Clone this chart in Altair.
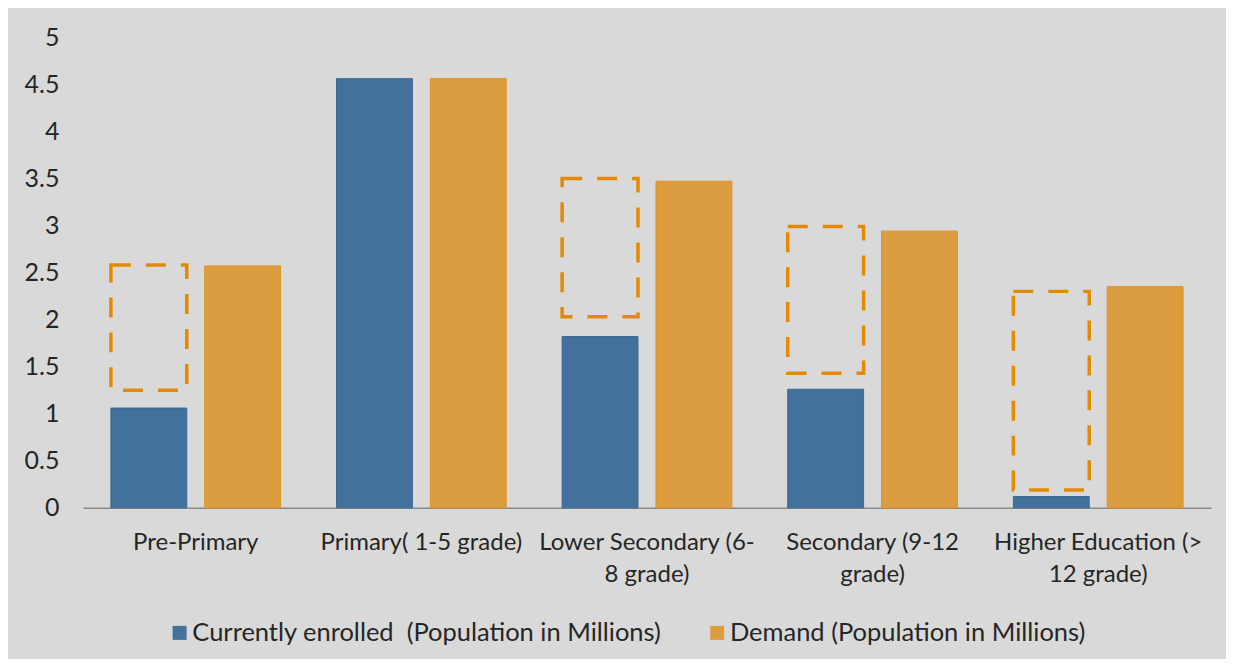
import altair as alt
import pandas as pd

categories = ["Pre-Primary", "Primary( 1-5 grade)", "Lower Secondary (6-|8 grade)",
              "Secondary (9-12|grade)", "Higher Education (>|12 grade)"]
series = ["Currently enrolled \u00a0(Population in Millions)", "Demand (Population in Millions)"]
enrolled = [1.06, 4.56, 1.82, 1.26, 0.12]
demand = [2.57, 4.56, 3.47, 2.94, 2.35]

gap_cats = ["Pre-Primary", "Lower Secondary (6-|8 grade)", "Secondary (9-12|grade)",
            "Higher Education (>|12 grade)"]
gap_low = [1.25, 2.03, 1.43, 0.19]
gap_high = [2.58, 3.50, 2.99, 2.30]

y_ticks = [0, 0.5, 1, 1.5, 2, 2.5, 3, 3.5, 4, 4.5, 5]

rows = []
for c, e, d in zip(categories, enrolled, demand):
    rows.append({"cat": c, "series": series[0], "value": e})
    rows.append({"cat": c, "series": series[1], "value": d})
bars_df = pd.DataFrame(rows)
gaps_df = pd.DataFrame({"cat": gap_cats, "series": [series[0]] * len(gap_cats),
                        "low": gap_low, "high": gap_high})

FONT = "Lato"
TXT = "#262626"

x = alt.X("cat:N", sort=categories, title=None,
          scale=alt.Scale(paddingInner=0, paddingOuter=0),
          axis=alt.Axis(title=None, labelExpr="split(datum.label, '|')", labelAngle=0,
                        ticks=False, domainColor="#898989", domainWidth=1.5,
                        labelFont=FONT, labelFontSize=24, labelColor=TXT,
                        labelPadding=23, labelLineHeight=32, labelLimit=400))
xoff = alt.XOffset("series:N", sort=series,
                   scale=alt.Scale(domain=series, paddingInner=0.1915, paddingOuter=0.298))
y = alt.Y("value:Q", title=None, scale=alt.Scale(domain=[0, 5]),
          axis=alt.Axis(title=None, values=y_ticks, grid=False, domain=False, ticks=False,
                        format="~g",
                        labelFont=FONT, labelFontSize=25, labelColor=TXT, labelPadding=24))

bars = alt.Chart(bars_df).mark_bar(strokeWidth=1).encode(
    x=x, xOffset=xoff, y=y,
    color=alt.Color("series:N", sort=series,
                    scale=alt.Scale(domain=series, range=["#41719c", "#dc9d40"]),
                    legend=alt.Legend(title=None, orient="none", legendX=84, legendY=583,
                                      direction="horizontal", symbolType="square",
                                      symbolSize=196, labelFont=FONT, labelFontSize=25.5,
                                      labelColor=TXT, columnPadding=42, labelOffset=0,
                                      symbolStrokeWidth=0, labelLimit=700)),
    stroke=alt.Stroke("series:N", sort=series,
                      scale=alt.Scale(domain=series, range=["#3a6891", "#e0921c"]),
                      legend=None),
)

gaps = alt.Chart(gaps_df).mark_bar(fillOpacity=0, stroke="#e38b00", strokeWidth=3.5,
                                   strokeDash=[20, 15]).encode(
    x=alt.X("cat:N", sort=categories, title=None),
    xOffset=alt.XOffset("series:N", sort=series),
    y=alt.Y("high:Q", title=None),
    y2="low:Q",
)

chart = alt.layer(bars, gaps).properties(
    width=1129, height=471,
    autosize=alt.AutoSizeParams(type="none"),
    padding={"left": 75, "top": 29, "right": 15, "bottom": 151},
    background="#d9d9d9",
).configure_view(stroke=None)

chart.save("out.html", embed_options={"renderer": "svg", "actions": False})
